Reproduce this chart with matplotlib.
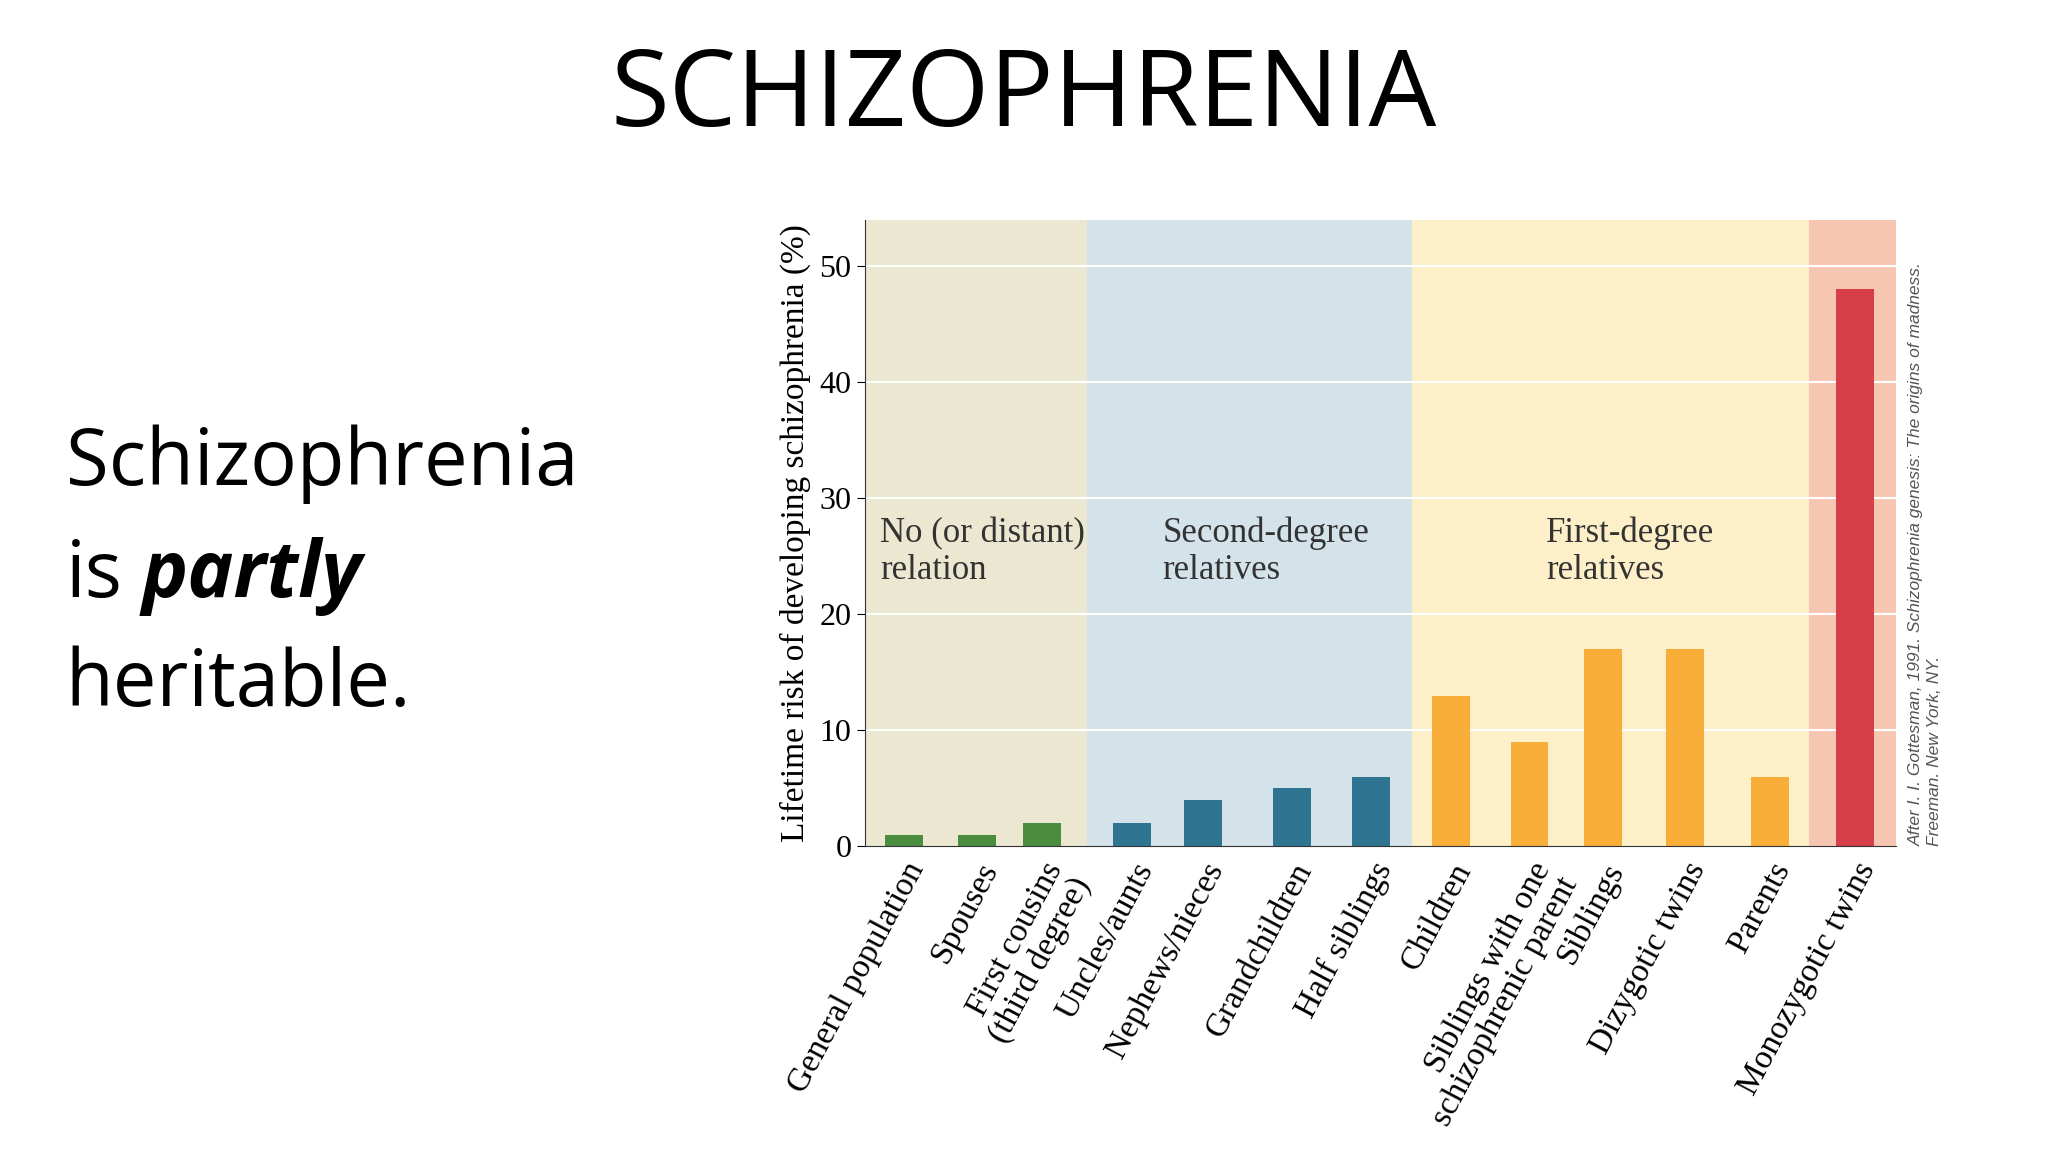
import matplotlib.pyplot as plt

# datos
categorias = ["General population", "Spouses", "First cousins\n(third degree)",
              "Uncles/aunts", "Nephews/nieces", "Grandchildren", "Half siblings",
              "Children", "Siblings with one\nschizophrenic parent", "Siblings",
              "Dizygotic twins", "Parents", "Monozygotic twins"]
riesgo = [1, 1, 2, 2, 4, 5, 6, 13, 9, 17, 17, 6, 48]
posiciones = [692, 748, 798, 867, 921, 989, 1050, 1111, 1171, 1227, 1290, 1355, 1420]
grupo = [0, 0, 0, 1, 1, 1, 1, 2, 2, 2, 2, 2, 3]
regiones = [(662, 832), (832, 1081), (1081, 1385), (1385, 1452)]
titulos_region = ["No (or distant)\nrelation", "Second-degree\nrelatives", "First-degree\nrelatives"]

fondos = ["#ebe7d0", "#d4e2e9", "#fdf0c8", "#f6c6b2"]
colores = ["#4b8d3f", "#2f7592", "#f9ae3a", "#d63e48"]

fig = plt.figure(figsize=(20.48, 11.52), dpi=100)
fig.text(0.5, 0.915, "SCHIZOPHRENIA", ha="center", va="center", fontsize=77, family="Open Sans")
fs = 56
fig.text(0.032, 0.597, "Schizophrenia", fontsize=fs, family="Open Sans", va="center")
fig.text(0.032, 0.5, "is", fontsize=fs, family="Open Sans", va="center")
fig.text(0.069, 0.5, "partly", fontsize=fs, family="Open Sans", va="center", weight="bold", style="italic")
fig.text(0.032, 0.405, "heritable.", fontsize=fs, family="Open Sans", va="center")

ax = fig.add_axes([0.4222, 0.2653, 0.5038, 0.544])
for (a, b), c in zip(regiones, fondos):
    ax.axvspan(a, b, color=c, zorder=0, lw=0)
for y in range(10, 60, 10):
    ax.axhline(y, color="white", lw=1.5, zorder=1)
ax.bar(posiciones, riesgo, width=29, color=[colores[g] for g in grupo], zorder=2)

ax.set_xlim(662, 1452)
ax.set_ylim(0, 54)
ax.set_yticks(range(0, 60, 10))
ax.tick_params(axis="y", labelsize=23, length=6, direction="out")
for t in ax.get_yticklabels():
    t.set_family("Liberation Serif")
ax.set_xticks(posiciones)
ax.set_xticklabels(categorias, rotation=62, ha="right", rotation_mode="anchor",
                   fontsize=24, family="Liberation Serif", linespacing=1.0)
ax.tick_params(axis="x", length=0, pad=8)
ax.set_ylabel("Lifetime risk of developing schizophrenia (%)", fontsize=24,
              family="Liberation Serif", labelpad=6)
for s in ["top", "right"]:
    ax.spines[s].set_visible(False)
ax.spines["left"].set_color("#333333")
ax.spines["bottom"].set_color("#333333")

tx = [674, 890, 1184]
for x, t in zip(tx, titulos_region):
    ax.text(x, 28.4, t, fontsize=25, family="Liberation Serif", va="top", color="#333333",
            linespacing=1.15)

fig.text(0.932, 0.266, "After I. I. Gottesman, 1991. Schizophrenia genesis: The origins of madness.\nFreeman. New York, NY.",
         rotation=90, fontsize=12.5, family="Liberation Sans", color="#555555",
         ha="left", va="bottom", style="italic", linespacing=1.3)

fig.savefig("out.png", dpi=100)
